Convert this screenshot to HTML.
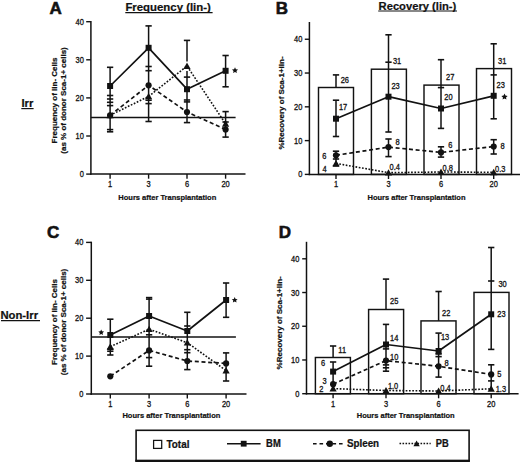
<!DOCTYPE html>
<html><head><meta charset="utf-8"><style>
html,body{margin:0;padding:0;background:#fff;}
svg{display:block;}
text{font-family:"Liberation Sans", sans-serif;fill:#121212;}
.n{stroke:#121212;stroke-width:0.3px;}
text[font-weight="bold"]{stroke:#121212;stroke-width:0.22px;}
text.L{stroke:#121212;stroke-width:0.6px;}
</style></head><body>
<svg width="520" height="462" viewBox="0 0 520 462">
<rect width="520" height="462" fill="#fff"/>
<line x1="90.9" y1="21" x2="90.9" y2="174.85" stroke="#121212" stroke-width="1.5"/>
<line x1="90.15" y1="174.1" x2="245.5" y2="174.1" stroke="#121212" stroke-width="1.5"/>
<line x1="86.2" y1="174.1" x2="90.9" y2="174.1" stroke="#121212" stroke-width="1.4"/>
<text transform="translate(83.8,177.07) scale(0.9,1)" font-size="8.3" class="n" text-anchor="end">0</text>
<line x1="86.2" y1="136" x2="90.9" y2="136" stroke="#121212" stroke-width="1.4"/>
<text transform="translate(83.8,138.97) scale(0.9,1)" font-size="8.3" class="n" text-anchor="end">10</text>
<line x1="86.2" y1="97.9" x2="90.9" y2="97.9" stroke="#121212" stroke-width="1.4"/>
<text transform="translate(83.8,100.87) scale(0.9,1)" font-size="8.3" class="n" text-anchor="end">20</text>
<line x1="86.2" y1="59.8" x2="90.9" y2="59.8" stroke="#121212" stroke-width="1.4"/>
<text transform="translate(83.8,62.77) scale(0.9,1)" font-size="8.3" class="n" text-anchor="end">30</text>
<line x1="86.2" y1="21.7" x2="90.9" y2="21.7" stroke="#121212" stroke-width="1.4"/>
<text transform="translate(83.8,24.67) scale(0.9,1)" font-size="8.3" class="n" text-anchor="end">40</text>
<line x1="110.1" y1="174.1" x2="110.1" y2="178.7" stroke="#121212" stroke-width="1.4"/>
<text transform="translate(110.1,187.47) scale(0.9,1)" font-size="8.3" class="n" text-anchor="middle">1</text>
<line x1="148.6" y1="174.1" x2="148.6" y2="178.7" stroke="#121212" stroke-width="1.4"/>
<text transform="translate(148.6,187.47) scale(0.9,1)" font-size="8.3" class="n" text-anchor="middle">3</text>
<line x1="187" y1="174.1" x2="187" y2="178.7" stroke="#121212" stroke-width="1.4"/>
<text transform="translate(187,187.47) scale(0.9,1)" font-size="8.3" class="n" text-anchor="middle">6</text>
<line x1="225.6" y1="174.1" x2="225.6" y2="178.7" stroke="#121212" stroke-width="1.4"/>
<text transform="translate(225.6,187.47) scale(0.9,1)" font-size="8.3" class="n" text-anchor="middle">20</text>
<text x="167.3" y="199.59" font-size="7.5" font-weight="bold" text-anchor="middle">Hours after Transplantation</text>
<text transform="translate(56.8,100.5) rotate(-90)" font-size="8" font-weight="bold" text-anchor="middle">Frequency of lin- Cells</text>
<text transform="translate(65.8,100.5) rotate(-90)" font-size="8" font-weight="bold" text-anchor="middle">(as % of donor Sca-1+ cells)</text>
<line x1="90.9" y1="117.4" x2="235.6" y2="117.4" stroke="#121212" stroke-width="1.5"/>
<line x1="110.1" y1="67.3" x2="110.1" y2="131.8" stroke="#121212" stroke-width="1.5"/>
<line x1="106.95" y1="67.3" x2="113.25" y2="67.3" stroke="#121212" stroke-width="1.6"/>
<line x1="106.95" y1="95.5" x2="113.25" y2="95.5" stroke="#121212" stroke-width="1.6"/>
<line x1="106.95" y1="99" x2="113.25" y2="99" stroke="#121212" stroke-width="1.6"/>
<line x1="106.95" y1="102.3" x2="113.25" y2="102.3" stroke="#121212" stroke-width="1.6"/>
<line x1="106.95" y1="105.6" x2="113.25" y2="105.6" stroke="#121212" stroke-width="1.6"/>
<line x1="106.95" y1="129.6" x2="113.25" y2="129.6" stroke="#121212" stroke-width="1.6"/>
<line x1="106.95" y1="131.8" x2="113.25" y2="131.8" stroke="#121212" stroke-width="1.6"/>
<line x1="148.6" y1="25.9" x2="148.6" y2="121.5" stroke="#121212" stroke-width="1.5"/>
<line x1="145.45" y1="25.9" x2="151.75" y2="25.9" stroke="#121212" stroke-width="1.6"/>
<line x1="145.45" y1="66.5" x2="151.75" y2="66.5" stroke="#121212" stroke-width="1.6"/>
<line x1="145.45" y1="70.7" x2="151.75" y2="70.7" stroke="#121212" stroke-width="1.6"/>
<line x1="145.45" y1="100.2" x2="151.75" y2="100.2" stroke="#121212" stroke-width="1.6"/>
<line x1="145.45" y1="103.6" x2="151.75" y2="103.6" stroke="#121212" stroke-width="1.6"/>
<line x1="145.45" y1="121.5" x2="151.75" y2="121.5" stroke="#121212" stroke-width="1.6"/>
<line x1="187" y1="40.4" x2="187" y2="61.6" stroke="#121212" stroke-width="1.5"/>
<line x1="187" y1="70.9" x2="187" y2="122.6" stroke="#121212" stroke-width="1.5"/>
<line x1="183.85" y1="40.4" x2="190.15" y2="40.4" stroke="#121212" stroke-width="1.6"/>
<line x1="183.85" y1="77.1" x2="190.15" y2="77.1" stroke="#121212" stroke-width="1.6"/>
<line x1="183.85" y1="100" x2="190.15" y2="100" stroke="#121212" stroke-width="1.6"/>
<line x1="183.85" y1="101.9" x2="190.15" y2="101.9" stroke="#121212" stroke-width="1.6"/>
<line x1="183.85" y1="122.6" x2="190.15" y2="122.6" stroke="#121212" stroke-width="1.6"/>
<line x1="225.6" y1="55.5" x2="225.6" y2="86.8" stroke="#121212" stroke-width="1.5"/>
<line x1="225.6" y1="111.6" x2="225.6" y2="137.1" stroke="#121212" stroke-width="1.5"/>
<line x1="222.45" y1="55.5" x2="228.75" y2="55.5" stroke="#121212" stroke-width="1.6"/>
<line x1="222.45" y1="86.8" x2="228.75" y2="86.8" stroke="#121212" stroke-width="1.6"/>
<line x1="222.45" y1="111.6" x2="228.75" y2="111.6" stroke="#121212" stroke-width="1.6"/>
<line x1="222.45" y1="122" x2="228.75" y2="122" stroke="#121212" stroke-width="1.6"/>
<line x1="222.45" y1="137.1" x2="228.75" y2="137.1" stroke="#121212" stroke-width="1.6"/>
<polyline points="110.1,115.3 148.6,96.4 187,66 225.6,123.8" fill="none" stroke="#121212" stroke-width="1.6" stroke-linejoin="round" stroke-dasharray="1.7 1.6"/>
<polyline points="110.1,115.3 148.6,85.3 187,112 225.6,129.5" fill="none" stroke="#121212" stroke-width="1.7" stroke-linejoin="round" stroke-dasharray="4 2.7"/>
<polyline points="110.1,86 148.6,47.8 187,89.2 225.6,70.8" fill="none" stroke="#121212" stroke-width="1.7" stroke-linejoin="round"/>
<polygon points="110.1,111.78 113.7,118.18 106.5,118.18" fill="#121212"/>
<polygon points="148.6,92.88 152.2,99.28 145,99.28" fill="#121212"/>
<polygon points="187,62.48 190.6,68.88 183.4,68.88" fill="#121212"/>
<polygon points="225.6,120.28 229.2,126.68 222,126.68" fill="#121212"/>
<circle cx="110.1" cy="115.3" r="3.1" fill="#121212"/>
<circle cx="148.6" cy="85.3" r="3.1" fill="#121212"/>
<circle cx="187" cy="112" r="3.1" fill="#121212"/>
<circle cx="225.6" cy="129.5" r="3.1" fill="#121212"/>
<rect x="107.1" y="83" width="6" height="6" fill="#121212"/>
<rect x="145.6" y="44.8" width="6" height="6" fill="#121212"/>
<rect x="184" y="86.2" width="6" height="6" fill="#121212"/>
<rect x="222.6" y="67.8" width="6" height="6" fill="#121212"/>
<polygon points="235,67.3 235.91,69.25 238.04,69.51 236.47,70.98 236.88,73.09 235,72.05 233.12,73.09 233.53,70.98 231.96,69.51 234.09,69.25" fill="#121212"/>
<line x1="91.3" y1="241.7" x2="91.3" y2="394.75" stroke="#121212" stroke-width="1.5"/>
<line x1="90.55" y1="394" x2="246.5" y2="394" stroke="#121212" stroke-width="1.5"/>
<line x1="86.1" y1="394" x2="91.3" y2="394" stroke="#121212" stroke-width="1.4"/>
<text transform="translate(83.4,396.97) scale(0.9,1)" font-size="8.3" class="n" text-anchor="end">0</text>
<line x1="86.1" y1="356.1" x2="91.3" y2="356.1" stroke="#121212" stroke-width="1.4"/>
<text transform="translate(83.4,359.07) scale(0.9,1)" font-size="8.3" class="n" text-anchor="end">10</text>
<line x1="86.1" y1="318.2" x2="91.3" y2="318.2" stroke="#121212" stroke-width="1.4"/>
<text transform="translate(83.4,321.17) scale(0.9,1)" font-size="8.3" class="n" text-anchor="end">20</text>
<line x1="86.1" y1="280.3" x2="91.3" y2="280.3" stroke="#121212" stroke-width="1.4"/>
<text transform="translate(83.4,283.27) scale(0.9,1)" font-size="8.3" class="n" text-anchor="end">30</text>
<line x1="86.1" y1="242.4" x2="91.3" y2="242.4" stroke="#121212" stroke-width="1.4"/>
<text transform="translate(83.4,245.37) scale(0.9,1)" font-size="8.3" class="n" text-anchor="end">40</text>
<line x1="110.3" y1="394" x2="110.3" y2="398.6" stroke="#121212" stroke-width="1.4"/>
<text transform="translate(110.3,407.27) scale(0.9,1)" font-size="8.3" class="n" text-anchor="middle">1</text>
<line x1="149.1" y1="394" x2="149.1" y2="398.6" stroke="#121212" stroke-width="1.4"/>
<text transform="translate(149.1,407.27) scale(0.9,1)" font-size="8.3" class="n" text-anchor="middle">3</text>
<line x1="187.3" y1="394" x2="187.3" y2="398.6" stroke="#121212" stroke-width="1.4"/>
<text transform="translate(187.3,407.27) scale(0.9,1)" font-size="8.3" class="n" text-anchor="middle">6</text>
<line x1="226.1" y1="394" x2="226.1" y2="398.6" stroke="#121212" stroke-width="1.4"/>
<text transform="translate(226.1,407.27) scale(0.9,1)" font-size="8.3" class="n" text-anchor="middle">20</text>
<text x="171.4" y="418.49" font-size="7.5" font-weight="bold" text-anchor="middle">Hours after Transplantation</text>
<text transform="translate(57.1,322) rotate(-90)" font-size="8" font-weight="bold" text-anchor="middle">Frequency of lin- Cells</text>
<text transform="translate(66.4,322) rotate(-90)" font-size="8" font-weight="bold" text-anchor="middle">(as % of donor Sca-1+ cells)</text>
<line x1="91.3" y1="336.9" x2="235.9" y2="336.9" stroke="#121212" stroke-width="1.5"/>
<line x1="110.3" y1="319.2" x2="110.3" y2="355" stroke="#121212" stroke-width="1.5"/>
<line x1="107.15" y1="319.2" x2="113.45" y2="319.2" stroke="#121212" stroke-width="1.6"/>
<line x1="107.15" y1="349.2" x2="113.45" y2="349.2" stroke="#121212" stroke-width="1.6"/>
<line x1="107.15" y1="351.2" x2="113.45" y2="351.2" stroke="#121212" stroke-width="1.6"/>
<line x1="107.15" y1="355" x2="113.45" y2="355" stroke="#121212" stroke-width="1.6"/>
<line x1="149.1" y1="297.6" x2="149.1" y2="366.2" stroke="#121212" stroke-width="1.5"/>
<line x1="145.95" y1="297.6" x2="152.25" y2="297.6" stroke="#121212" stroke-width="1.6"/>
<line x1="145.95" y1="299.1" x2="152.25" y2="299.1" stroke="#121212" stroke-width="1.6"/>
<line x1="145.95" y1="334.8" x2="152.25" y2="334.8" stroke="#121212" stroke-width="1.6"/>
<line x1="145.95" y1="357.6" x2="152.25" y2="357.6" stroke="#121212" stroke-width="1.6"/>
<line x1="145.95" y1="366.2" x2="152.25" y2="366.2" stroke="#121212" stroke-width="1.6"/>
<line x1="187.3" y1="312.3" x2="187.3" y2="369.6" stroke="#121212" stroke-width="1.5"/>
<line x1="184.15" y1="312.3" x2="190.45" y2="312.3" stroke="#121212" stroke-width="1.6"/>
<line x1="184.15" y1="326" x2="190.45" y2="326" stroke="#121212" stroke-width="1.6"/>
<line x1="184.15" y1="349.7" x2="190.45" y2="349.7" stroke="#121212" stroke-width="1.6"/>
<line x1="184.15" y1="352.7" x2="190.45" y2="352.7" stroke="#121212" stroke-width="1.6"/>
<line x1="184.15" y1="369.6" x2="190.45" y2="369.6" stroke="#121212" stroke-width="1.6"/>
<line x1="226.1" y1="283" x2="226.1" y2="317.3" stroke="#121212" stroke-width="1.5"/>
<line x1="226.1" y1="352.9" x2="226.1" y2="381" stroke="#121212" stroke-width="1.5"/>
<line x1="222.95" y1="283" x2="229.25" y2="283" stroke="#121212" stroke-width="1.6"/>
<line x1="222.95" y1="317.3" x2="229.25" y2="317.3" stroke="#121212" stroke-width="1.6"/>
<line x1="222.95" y1="352.9" x2="229.25" y2="352.9" stroke="#121212" stroke-width="1.6"/>
<line x1="222.95" y1="381" x2="229.25" y2="381" stroke="#121212" stroke-width="1.6"/>
<polyline points="110.3,346.7 149.1,329.2 187.3,342.7 226.1,370.6" fill="none" stroke="#121212" stroke-width="1.6" stroke-linejoin="round" stroke-dasharray="1.7 1.6"/>
<polyline points="110.3,376.3 149.1,350.4 187.3,361 226.1,363.4" fill="none" stroke="#121212" stroke-width="1.7" stroke-linejoin="round" stroke-dasharray="4 2.7"/>
<polyline points="110.3,335 149.1,316 187.3,331 226.1,300" fill="none" stroke="#121212" stroke-width="1.7" stroke-linejoin="round"/>
<polygon points="110.3,343.18 113.9,349.58 106.7,349.58" fill="#121212"/>
<polygon points="149.1,325.68 152.7,332.08 145.5,332.08" fill="#121212"/>
<polygon points="187.3,339.18 190.9,345.58 183.7,345.58" fill="#121212"/>
<polygon points="226.1,367.08 229.7,373.48 222.5,373.48" fill="#121212"/>
<circle cx="110.3" cy="376.3" r="3.1" fill="#121212"/>
<circle cx="149.1" cy="350.4" r="3.1" fill="#121212"/>
<circle cx="187.3" cy="361" r="3.1" fill="#121212"/>
<circle cx="226.1" cy="363.4" r="3.1" fill="#121212"/>
<rect x="107.3" y="332" width="6" height="6" fill="#121212"/>
<rect x="146.1" y="313" width="6" height="6" fill="#121212"/>
<rect x="184.3" y="328" width="6" height="6" fill="#121212"/>
<rect x="223.1" y="297" width="6" height="6" fill="#121212"/>
<polygon points="101.2,329.5 102.05,331.33 104.05,331.57 102.58,332.95 102.96,334.93 101.2,333.95 99.44,334.93 99.82,332.95 98.35,331.57 100.35,331.33" fill="#121212"/>
<polygon points="234.7,297 235.58,298.89 237.65,299.14 236.13,300.56 236.52,302.61 234.7,301.6 232.88,302.61 233.27,300.56 231.75,299.14 233.82,298.89" fill="#121212"/>
<line x1="309.4" y1="22" x2="309.4" y2="175.15" stroke="#121212" stroke-width="1.5"/>
<line x1="308.65" y1="174.4" x2="520.5" y2="174.4" stroke="#121212" stroke-width="1.5"/>
<line x1="304.8" y1="174.4" x2="309.4" y2="174.4" stroke="#121212" stroke-width="1.4"/>
<text transform="translate(302.4,177.37) scale(0.9,1)" font-size="8.3" class="n" text-anchor="end">0</text>
<line x1="304.8" y1="140.61" x2="309.4" y2="140.61" stroke="#121212" stroke-width="1.4"/>
<text transform="translate(302.4,143.58) scale(0.9,1)" font-size="8.3" class="n" text-anchor="end">10</text>
<line x1="304.8" y1="106.83" x2="309.4" y2="106.83" stroke="#121212" stroke-width="1.4"/>
<text transform="translate(302.4,109.8) scale(0.9,1)" font-size="8.3" class="n" text-anchor="end">20</text>
<line x1="304.8" y1="73.04" x2="309.4" y2="73.04" stroke="#121212" stroke-width="1.4"/>
<text transform="translate(302.4,76.01) scale(0.9,1)" font-size="8.3" class="n" text-anchor="end">30</text>
<line x1="304.8" y1="39.25" x2="309.4" y2="39.25" stroke="#121212" stroke-width="1.4"/>
<text transform="translate(302.4,42.22) scale(0.9,1)" font-size="8.3" class="n" text-anchor="end">40</text>
<line x1="336" y1="174.4" x2="336" y2="179" stroke="#121212" stroke-width="1.4"/>
<text transform="translate(336,187.37) scale(0.9,1)" font-size="8.3" class="n" text-anchor="middle">1</text>
<line x1="388.5" y1="174.4" x2="388.5" y2="179" stroke="#121212" stroke-width="1.4"/>
<text transform="translate(388.5,187.37) scale(0.9,1)" font-size="8.3" class="n" text-anchor="middle">3</text>
<line x1="441" y1="174.4" x2="441" y2="179" stroke="#121212" stroke-width="1.4"/>
<text transform="translate(441,187.37) scale(0.9,1)" font-size="8.3" class="n" text-anchor="middle">6</text>
<line x1="493.7" y1="174.4" x2="493.7" y2="179" stroke="#121212" stroke-width="1.4"/>
<text transform="translate(493.7,187.37) scale(0.9,1)" font-size="8.3" class="n" text-anchor="middle">20</text>
<text x="416.5" y="199.89" font-size="7.5" font-weight="bold" text-anchor="middle">Hours after Transplantation</text>
<text transform="translate(284.4,103) rotate(-90)" font-size="8" font-weight="bold" text-anchor="middle">%Recovery of Sca-1+lin-</text>
<rect x="318.5" y="87.5" width="35" height="86.9" fill="none" stroke="#121212" stroke-width="1.45"/>
<rect x="371.4" y="69.2" width="35" height="105.2" fill="none" stroke="#121212" stroke-width="1.45"/>
<rect x="424" y="85.1" width="35" height="89.3" fill="none" stroke="#121212" stroke-width="1.45"/>
<rect x="476.5" y="68.6" width="35" height="105.8" fill="none" stroke="#121212" stroke-width="1.45"/>
<line x1="336" y1="74.9" x2="336" y2="87.5" stroke="#121212" stroke-width="1.5"/>
<line x1="336" y1="100.2" x2="336" y2="136.5" stroke="#121212" stroke-width="1.5"/>
<line x1="336" y1="151.2" x2="336" y2="166" stroke="#121212" stroke-width="1.5"/>
<line x1="332.85" y1="74.9" x2="339.15" y2="74.9" stroke="#121212" stroke-width="1.6"/>
<line x1="332.85" y1="100.2" x2="339.15" y2="100.2" stroke="#121212" stroke-width="1.6"/>
<line x1="332.85" y1="136.5" x2="339.15" y2="136.5" stroke="#121212" stroke-width="1.6"/>
<line x1="332.85" y1="151.2" x2="339.15" y2="151.2" stroke="#121212" stroke-width="1.6"/>
<line x1="332.85" y1="159" x2="339.15" y2="159" stroke="#121212" stroke-width="1.6"/>
<line x1="332.85" y1="166" x2="339.15" y2="166" stroke="#121212" stroke-width="1.6"/>
<line x1="388.5" y1="34.8" x2="388.5" y2="132" stroke="#121212" stroke-width="1.5"/>
<line x1="388.5" y1="139" x2="388.5" y2="156.6" stroke="#121212" stroke-width="1.5"/>
<line x1="385.35" y1="34.8" x2="391.65" y2="34.8" stroke="#121212" stroke-width="1.6"/>
<line x1="385.35" y1="62.2" x2="391.65" y2="62.2" stroke="#121212" stroke-width="1.6"/>
<line x1="385.35" y1="132" x2="391.65" y2="132" stroke="#121212" stroke-width="1.6"/>
<line x1="385.35" y1="139" x2="391.65" y2="139" stroke="#121212" stroke-width="1.6"/>
<line x1="385.35" y1="156.6" x2="391.65" y2="156.6" stroke="#121212" stroke-width="1.6"/>
<line x1="441" y1="59.7" x2="441" y2="128.4" stroke="#121212" stroke-width="1.5"/>
<line x1="441" y1="146.8" x2="441" y2="157.1" stroke="#121212" stroke-width="1.5"/>
<line x1="437.85" y1="59.7" x2="444.15" y2="59.7" stroke="#121212" stroke-width="1.6"/>
<line x1="437.85" y1="87.6" x2="444.15" y2="87.6" stroke="#121212" stroke-width="1.6"/>
<line x1="437.85" y1="128.4" x2="444.15" y2="128.4" stroke="#121212" stroke-width="1.6"/>
<line x1="437.85" y1="146.8" x2="444.15" y2="146.8" stroke="#121212" stroke-width="1.6"/>
<line x1="437.85" y1="157.1" x2="444.15" y2="157.1" stroke="#121212" stroke-width="1.6"/>
<line x1="493.7" y1="43.8" x2="493.7" y2="118.8" stroke="#121212" stroke-width="1.5"/>
<line x1="493.7" y1="139.7" x2="493.7" y2="154" stroke="#121212" stroke-width="1.5"/>
<line x1="490.55" y1="43.8" x2="496.85" y2="43.8" stroke="#121212" stroke-width="1.6"/>
<line x1="490.55" y1="74.9" x2="496.85" y2="74.9" stroke="#121212" stroke-width="1.6"/>
<line x1="490.55" y1="118.8" x2="496.85" y2="118.8" stroke="#121212" stroke-width="1.6"/>
<line x1="490.55" y1="139.7" x2="496.85" y2="139.7" stroke="#121212" stroke-width="1.6"/>
<line x1="490.55" y1="154" x2="496.85" y2="154" stroke="#121212" stroke-width="1.6"/>
<polyline points="336,163.4 388.5,172.7 441,172 493.7,172.3" fill="none" stroke="#121212" stroke-width="1.6" stroke-linejoin="round" stroke-dasharray="1.7 1.6"/>
<polyline points="336,155.3 388.5,147.1 441,152.4 493.7,146.5" fill="none" stroke="#121212" stroke-width="1.7" stroke-linejoin="round" stroke-dasharray="4 2.7"/>
<polyline points="336,118.7 388.5,96.7 441,108.5 493.7,95.8" fill="none" stroke="#121212" stroke-width="1.7" stroke-linejoin="round"/>
<polygon points="336,159.88 339.6,166.28 332.4,166.28" fill="#121212"/>
<polygon points="388.5,169.18 392.1,175.58 384.9,175.58" fill="#121212"/>
<polygon points="441,168.48 444.6,174.88 437.4,174.88" fill="#121212"/>
<polygon points="493.7,168.78 497.3,175.18 490.1,175.18" fill="#121212"/>
<circle cx="336" cy="155.3" r="3.1" fill="#121212"/>
<circle cx="388.5" cy="147.1" r="3.1" fill="#121212"/>
<circle cx="441" cy="152.4" r="3.1" fill="#121212"/>
<circle cx="493.7" cy="146.5" r="3.1" fill="#121212"/>
<rect x="333" y="115.7" width="6" height="6" fill="#121212"/>
<rect x="385.5" y="93.7" width="6" height="6" fill="#121212"/>
<rect x="438" y="105.5" width="6" height="6" fill="#121212"/>
<rect x="490.7" y="92.8" width="6" height="6" fill="#121212"/>
<text transform="translate(340.7,83.17) scale(0.9,1)" font-size="8.3" class="n">26</text>
<text transform="translate(392.9,64.37) scale(0.9,1)" font-size="8.3" class="n">31</text>
<text transform="translate(446,80.27) scale(0.9,1)" font-size="8.3" class="n">27</text>
<text transform="translate(498.1,64.17) scale(0.9,1)" font-size="8.3" class="n">31</text>
<text transform="translate(338.9,109.97) scale(0.9,1)" font-size="8.3" class="n">17</text>
<text transform="translate(391.4,89.27) scale(0.9,1)" font-size="8.3" class="n">23</text>
<text transform="translate(444.3,99.77) scale(0.9,1)" font-size="8.3" class="n">20</text>
<text transform="translate(496.5,88.47) scale(0.9,1)" font-size="8.3" class="n">23</text>
<text transform="translate(395.6,145.37) scale(0.9,1)" font-size="8.3" class="n">8</text>
<text transform="translate(448.2,147.97) scale(0.9,1)" font-size="8.3" class="n">6</text>
<text transform="translate(500.6,149.37) scale(0.9,1)" font-size="8.3" class="n">8</text>
<text transform="translate(389.6,169.77) scale(0.9,1)" font-size="8.3" class="n">0.4</text>
<text transform="translate(442.6,170.57) scale(0.9,1)" font-size="8.3" class="n">0.8</text>
<text transform="translate(495,172.27) scale(0.9,1)" font-size="8.3" class="n">0.3</text>
<text transform="translate(322.2,158.97) scale(0.9,1)" font-size="8.3" class="n">6</text>
<text transform="translate(322.6,172.47) scale(0.9,1)" font-size="8.3" class="n">4</text>
<polygon points="504.5,93.6 505.44,95.61 507.64,95.88 506.02,97.39 506.44,99.57 504.5,98.5 502.56,99.57 502.98,97.39 501.36,95.88 503.56,95.61" fill="#121212"/>
<line x1="306.5" y1="241.8" x2="306.5" y2="394.45" stroke="#121212" stroke-width="1.5"/>
<line x1="305.75" y1="393.7" x2="518.6" y2="393.7" stroke="#121212" stroke-width="1.5"/>
<line x1="302.2" y1="393.7" x2="306.5" y2="393.7" stroke="#121212" stroke-width="1.4"/>
<text transform="translate(299.4,396.67) scale(0.9,1)" font-size="8.3" class="n" text-anchor="end">0</text>
<line x1="302.2" y1="359.98" x2="306.5" y2="359.98" stroke="#121212" stroke-width="1.4"/>
<text transform="translate(299.4,362.95) scale(0.9,1)" font-size="8.3" class="n" text-anchor="end">10</text>
<line x1="302.2" y1="326.25" x2="306.5" y2="326.25" stroke="#121212" stroke-width="1.4"/>
<text transform="translate(299.4,329.22) scale(0.9,1)" font-size="8.3" class="n" text-anchor="end">20</text>
<line x1="302.2" y1="292.52" x2="306.5" y2="292.52" stroke="#121212" stroke-width="1.4"/>
<text transform="translate(299.4,295.5) scale(0.9,1)" font-size="8.3" class="n" text-anchor="end">30</text>
<line x1="302.2" y1="258.8" x2="306.5" y2="258.8" stroke="#121212" stroke-width="1.4"/>
<text transform="translate(299.4,261.77) scale(0.9,1)" font-size="8.3" class="n" text-anchor="end">40</text>
<line x1="333.1" y1="393.7" x2="333.1" y2="398.3" stroke="#121212" stroke-width="1.4"/>
<text transform="translate(333.1,407.07) scale(0.9,1)" font-size="8.3" class="n" text-anchor="middle">1</text>
<line x1="386" y1="393.7" x2="386" y2="398.3" stroke="#121212" stroke-width="1.4"/>
<text transform="translate(386,407.07) scale(0.9,1)" font-size="8.3" class="n" text-anchor="middle">3</text>
<line x1="438.6" y1="393.7" x2="438.6" y2="398.3" stroke="#121212" stroke-width="1.4"/>
<text transform="translate(438.6,407.07) scale(0.9,1)" font-size="8.3" class="n" text-anchor="middle">6</text>
<line x1="491.2" y1="393.7" x2="491.2" y2="398.3" stroke="#121212" stroke-width="1.4"/>
<text transform="translate(491.2,407.07) scale(0.9,1)" font-size="8.3" class="n" text-anchor="middle">20</text>
<text x="405.7" y="418.38" font-size="7.5" font-weight="bold" text-anchor="middle">Hours after Transplantation</text>
<text transform="translate(281.6,322.8) rotate(-90)" font-size="8" font-weight="bold" text-anchor="middle">%Recovery of Sca-1+lin-</text>
<rect x="315.4" y="357.5" width="35" height="36.2" fill="none" stroke="#121212" stroke-width="1.45"/>
<rect x="368.6" y="309.5" width="35" height="84.2" fill="none" stroke="#121212" stroke-width="1.45"/>
<rect x="421" y="320.9" width="35" height="72.8" fill="none" stroke="#121212" stroke-width="1.45"/>
<rect x="474" y="292.4" width="35" height="101.3" fill="none" stroke="#121212" stroke-width="1.45"/>
<line x1="333.1" y1="346" x2="333.1" y2="357.5" stroke="#121212" stroke-width="1.5"/>
<line x1="333.1" y1="362" x2="333.1" y2="389" stroke="#121212" stroke-width="1.5"/>
<line x1="329.95" y1="346" x2="336.25" y2="346" stroke="#121212" stroke-width="1.6"/>
<line x1="329.95" y1="362" x2="336.25" y2="362" stroke="#121212" stroke-width="1.6"/>
<line x1="386" y1="279.1" x2="386" y2="309.5" stroke="#121212" stroke-width="1.5"/>
<line x1="386" y1="324.4" x2="386" y2="371.2" stroke="#121212" stroke-width="1.5"/>
<line x1="382.85" y1="279.1" x2="389.15" y2="279.1" stroke="#121212" stroke-width="1.6"/>
<line x1="382.85" y1="324.4" x2="389.15" y2="324.4" stroke="#121212" stroke-width="1.6"/>
<line x1="382.85" y1="348.9" x2="389.15" y2="348.9" stroke="#121212" stroke-width="1.6"/>
<line x1="382.85" y1="364.9" x2="389.15" y2="364.9" stroke="#121212" stroke-width="1.6"/>
<line x1="382.85" y1="367.8" x2="389.15" y2="367.8" stroke="#121212" stroke-width="1.6"/>
<line x1="382.85" y1="371.2" x2="389.15" y2="371.2" stroke="#121212" stroke-width="1.6"/>
<line x1="438.6" y1="291.5" x2="438.6" y2="320.9" stroke="#121212" stroke-width="1.5"/>
<line x1="438.6" y1="333.1" x2="438.6" y2="377.1" stroke="#121212" stroke-width="1.5"/>
<line x1="435.45" y1="291.5" x2="441.75" y2="291.5" stroke="#121212" stroke-width="1.6"/>
<line x1="435.45" y1="333.1" x2="441.75" y2="333.1" stroke="#121212" stroke-width="1.6"/>
<line x1="435.45" y1="354" x2="441.75" y2="354" stroke="#121212" stroke-width="1.6"/>
<line x1="435.45" y1="356.6" x2="441.75" y2="356.6" stroke="#121212" stroke-width="1.6"/>
<line x1="435.45" y1="377.1" x2="441.75" y2="377.1" stroke="#121212" stroke-width="1.6"/>
<line x1="491.2" y1="247.5" x2="491.2" y2="349.4" stroke="#121212" stroke-width="1.5"/>
<line x1="491.2" y1="364.8" x2="491.2" y2="388" stroke="#121212" stroke-width="1.5"/>
<line x1="488.05" y1="247.5" x2="494.35" y2="247.5" stroke="#121212" stroke-width="1.6"/>
<line x1="488.05" y1="281" x2="494.35" y2="281" stroke="#121212" stroke-width="1.6"/>
<line x1="488.05" y1="349.4" x2="494.35" y2="349.4" stroke="#121212" stroke-width="1.6"/>
<line x1="488.05" y1="364.8" x2="494.35" y2="364.8" stroke="#121212" stroke-width="1.6"/>
<line x1="488.05" y1="380.9" x2="494.35" y2="380.9" stroke="#121212" stroke-width="1.6"/>
<polyline points="333.1,388.6 386,390.5 438.6,391 491.2,388.8" fill="none" stroke="#121212" stroke-width="1.6" stroke-linejoin="round" stroke-dasharray="1.7 1.6"/>
<polyline points="333.1,384.2 386,360.6 438.6,366.3 491.2,374.4" fill="none" stroke="#121212" stroke-width="1.7" stroke-linejoin="round" stroke-dasharray="4 2.7"/>
<polyline points="333.1,371.6 386,344.5 438.6,351 491.2,314.3" fill="none" stroke="#121212" stroke-width="1.7" stroke-linejoin="round"/>
<polygon points="333.1,385.08 336.7,391.48 329.5,391.48" fill="#121212"/>
<polygon points="386,386.98 389.6,393.38 382.4,393.38" fill="#121212"/>
<polygon points="438.6,387.48 442.2,393.88 435,393.88" fill="#121212"/>
<polygon points="491.2,385.28 494.8,391.68 487.6,391.68" fill="#121212"/>
<circle cx="333.1" cy="384.2" r="3.1" fill="#121212"/>
<circle cx="386" cy="360.6" r="3.1" fill="#121212"/>
<circle cx="438.6" cy="366.3" r="3.1" fill="#121212"/>
<circle cx="491.2" cy="374.4" r="3.1" fill="#121212"/>
<rect x="330.1" y="368.6" width="6" height="6" fill="#121212"/>
<rect x="383" y="341.5" width="6" height="6" fill="#121212"/>
<rect x="435.6" y="348" width="6" height="6" fill="#121212"/>
<rect x="488.2" y="311.3" width="6" height="6" fill="#121212"/>
<text transform="translate(338.3,352.67) scale(0.9,1)" font-size="8.3" class="n">11</text>
<text transform="translate(390.1,303.97) scale(0.9,1)" font-size="8.3" class="n">25</text>
<text transform="translate(442,315.67) scale(0.9,1)" font-size="8.3" class="n">22</text>
<text transform="translate(498.4,286.77) scale(0.9,1)" font-size="8.3" class="n">30</text>
<text transform="translate(390.1,340.87) scale(0.9,1)" font-size="8.3" class="n">14</text>
<text transform="translate(440.9,340.47) scale(0.9,1)" font-size="8.3" class="n">13</text>
<text transform="translate(497.3,317.17) scale(0.9,1)" font-size="8.3" class="n">23</text>
<text transform="translate(390.1,359.67) scale(0.9,1)" font-size="8.3" class="n">10</text>
<text transform="translate(444.5,365.97) scale(0.9,1)" font-size="8.3" class="n">8</text>
<text transform="translate(497.3,377.37) scale(0.9,1)" font-size="8.3" class="n">5</text>
<text transform="translate(387.9,388.77) scale(0.9,1)" font-size="8.3" class="n">1.0</text>
<text transform="translate(440.2,390.97) scale(0.9,1)" font-size="8.3" class="n">0.4</text>
<text transform="translate(495.7,391.77) scale(0.9,1)" font-size="8.3" class="n">1.3</text>
<text transform="translate(321,366.37) scale(0.9,1)" font-size="8.3" class="n">6</text>
<text transform="translate(322.6,383.67) scale(0.9,1)" font-size="8.3" class="n">3</text>
<text transform="translate(319.2,392.27) scale(0.9,1)" font-size="8.3" class="n">2</text>
<text x="49.6" y="13.8" font-size="17" font-weight="bold" class="L">A</text>
<text x="275.8" y="13.5" font-size="17" font-weight="bold" class="L">B</text>
<text x="47.0" y="238.0" font-size="17" font-weight="bold" class="L">C</text>
<text x="278.8" y="237.9" font-size="17" font-weight="bold" class="L">D</text>
<text x="125.4" y="11.4" font-size="11.4" font-weight="bold">Frequency (lin-)</text>
<line x1="125.3" y1="12.7" x2="212.6" y2="12.7" stroke="#121212" stroke-width="1.25"/>
<text x="378.6" y="10.1" font-size="11.2" font-weight="bold">Recovery (lin-)</text>
<line x1="378.2" y1="11" x2="457" y2="11" stroke="#121212" stroke-width="1.2"/>
<text x="21.4" y="107.3" font-size="11.3" font-weight="bold">Irr</text>
<line x1="21.3" y1="108.6" x2="33.6" y2="108.6" stroke="#121212" stroke-width="1.2"/>
<text x="0.4" y="319.1" font-size="11.3" font-weight="bold">Non-Irr</text>
<line x1="1" y1="320.6" x2="40" y2="320.6" stroke="#121212" stroke-width="1.2"/>
<rect x="136.1" y="430.3" width="333" height="30.4" fill="none" stroke="#121212" stroke-width="1.6"/>
<line x1="135.3" y1="460.9" x2="469.9" y2="460.9" stroke="#121212" stroke-width="2.2"/>
<rect x="153.6" y="440.4" width="8.1" height="8" fill="none" stroke="#121212" stroke-width="1.25"/>
<text transform="translate(166.5,447.8) scale(1,1.08)" font-size="9.9" font-weight="bold">Total</text>
<line x1="227" y1="443.7" x2="260.6" y2="443.7" stroke="#121212" stroke-width="1.6"/>
<rect x="240.8" y="440.8" width="5.8" height="5.8" fill="#121212"/>
<text transform="translate(266.1,447) scale(1,1.08)" font-size="9.4" font-weight="bold">BM</text>
<line x1="313" y1="443.8" x2="343.5" y2="443.8" stroke="#121212" stroke-width="1.6" stroke-dasharray="3.6 2.9"/>
<circle cx="329.8" cy="443.7" r="3.2" fill="#121212"/>
<text transform="translate(347,446.9) scale(1,1.04)" font-size="9.8" font-weight="bold">Spleen</text>
<line x1="399.5" y1="443.5" x2="430.7" y2="443.5" stroke="#121212" stroke-width="1.6" stroke-dasharray="1.6 1.4"/>
<polygon points="416.6,440.47 419.75,446.17 413.45,446.17" fill="#121212"/>
<text transform="translate(435.8,446.8) scale(1,1.08)" font-size="9.3" font-weight="bold">PB</text>
</svg>
</body></html>
